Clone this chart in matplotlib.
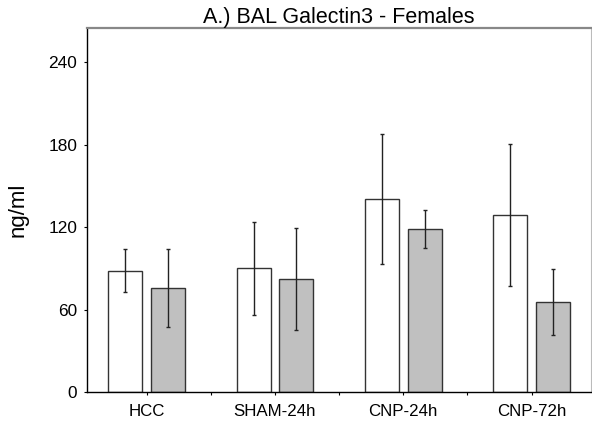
import numpy as np
import matplotlib.pyplot as plt

plt.rcParams['font.family'] = ['Liberation Sans', 'DejaVu Sans']

# data
groups = ["HCC", "SHAM-24h", "CNP-24h", "CNP-72h"]
white_mean = [88.5, 90.0, 140.5, 128.8]
white_err  = [15.7, 33.8, 47.0, 51.9]
gray_mean  = [75.7, 82.2, 118.9, 65.9]
gray_err   = [28.4, 36.9, 13.8, 24.0]
yticks = [0, 60, 120, 180, 240]

x = np.arange(len(groups))
w = 0.265
off = 0.1665

fig = plt.figure(figsize=(5.92, 4.21), dpi=100)
ax = fig.add_axes([87.0/592, 1 - 392.3/421, (591.3 - 87.0)/592, (392.3 - 27.7)/421])

ebar = dict(ecolor="#222222", elinewidth=1.0, capsize=1.5, capthick=1.0)
ax.bar(x - off, white_mean, w, yerr=white_err, color="white",
       edgecolor="#333333", linewidth=1.0, error_kw=ebar, zorder=2)
ax.bar(x + off, gray_mean, w, yerr=gray_err, color="#c0c0c0",
       edgecolor="#333333", linewidth=1.0, error_kw=ebar, zorder=2)

ax.set_xlim(-0.465, 3.465)
ax.set_ylim(0, 265)
ax.set_xticks(x)
ax.set_xticklabels(groups)
ax.set_xticks(x[:-1] + 0.5, minor=True)
ax.set_yticks(yticks)
ax.tick_params(axis="x", which="both", length=2, width=0.8, direction="out",
               labelsize=12.2, pad=6.5)
ax.tick_params(axis="y", length=2, width=0.8, direction="out",
               labelsize=12.4, pad=5)

ax.spines["left"].set_color("black")
ax.spines["bottom"].set_color("black")
ax.spines["left"].set_linewidth(1.0)
ax.spines["bottom"].set_linewidth(1.0)
ax.spines["top"].set_color("#888888")
ax.spines["top"].set_linewidth(1.6)
ax.spines["right"].set_color("#bbbbbb")
ax.spines["right"].set_linewidth(0.8)

ax.set_ylabel("ng/ml", fontsize=16)
ax.yaxis.set_label_coords(-0.116, 0.5)
ax.set_title("A.) BAL Galectin3 - Females", fontsize=15.5, pad=2.5)

fig.savefig("out.png", dpi=100)
